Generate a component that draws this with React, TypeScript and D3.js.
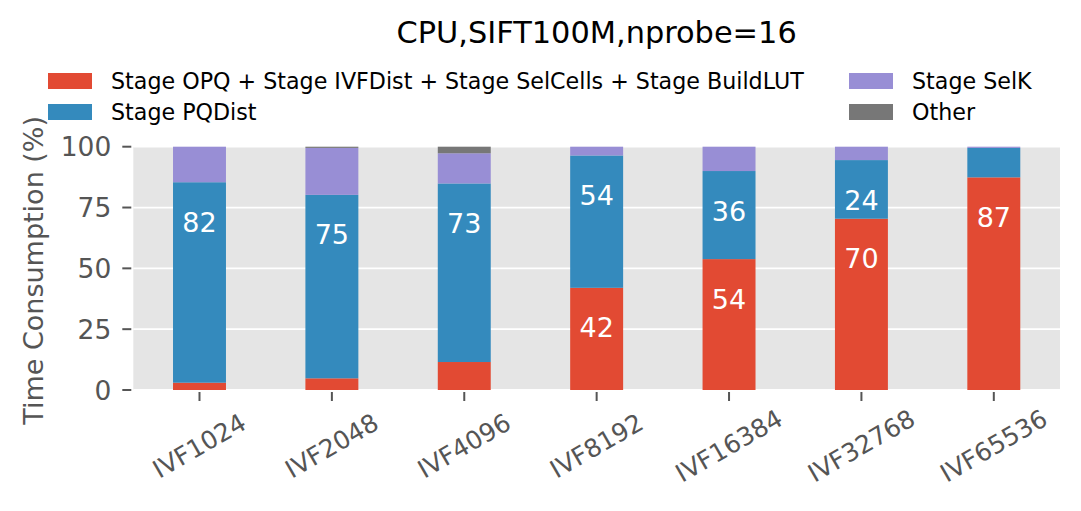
import React, { useEffect, useRef } from 'react';
import * as d3 from 'd3';

const categories = ['IVF1024', 'IVF2048', 'IVF4096', 'IVF8192', 'IVF16384', 'IVF32768', 'IVF65536'];
const seriesNames = [
  'Stage OPQ + Stage IVFDist + Stage SelCells + Stage BuildLUT',
  'Stage PQDist',
  'Stage SelK',
  'Other',
];
const stageOther4 = [3.0, 4.8, 11.5, 42.0, 53.8, 70.4, 87.4];
const stagePQDist = [82.4, 75.4, 73.4, 54.4, 36.2, 24.1, 12.1];
const stageSelK = [14.6, 19.3, 12.4, 3.6, 10.0, 5.5, 0.5];
const stageOther = [0, 0.5, 2.7, 0, 0, 0, 0];
const yTicks = [0, 25, 50, 75, 100];
const title = 'CPU,SIFT100M,nprobe=16';
const yLabel = 'Time Consumption (%)';

const colors = ['#E24A33', '#348ABD', '#988ED5', '#777777'];

const W = 1081;
const H = 511;
const M = { left: 133.3, right: 1060, top: 146.7, bottom: 390 };
const FONT = '"DejaVu Sans", sans-serif';

export default function App() {
  const ref = useRef<SVGSVGElement>(null);

  useEffect(() => {
    if (!ref.current) return;
    const svg = d3.select(ref.current);
    svg.selectAll('*').remove();

    const series = [stageOther4, stagePQDist, stageSelK, stageOther];
    const rows = categories.map((c, i) => {
      const r: Record<string, any> = { cat: c };
      series.forEach((s, k) => (r['s' + k] = s[i]));
      return r;
    });
    const keys = series.map((_, k) => 's' + k);
    const stacked = d3.stack().keys(keys)(rows as any);

    const x = d3.scaleBand<string>().domain(categories).range([M.left, M.right])
      .paddingInner(0.6).paddingOuter(0.3);
    const y = d3.scaleLinear().domain([0, 100]).range([M.bottom, M.top]);

    // background + grid
    svg.append('rect')
      .attr('x', M.left).attr('y', M.top)
      .attr('width', M.right - M.left).attr('height', M.bottom - M.top)
      .attr('fill', '#E5E5E5');
    svg.append('g').selectAll('line').data(yTicks).enter().append('line')
      .attr('x1', M.left).attr('x2', M.right)
      .attr('y1', d => y(d)).attr('y2', d => y(d))
      .attr('stroke', '#fff').attr('stroke-width', 1.8);

    // bars
    stacked.forEach((layer, k) => {
      svg.append('g').selectAll('rect').data(layer).enter().append('rect')
        .attr('x', (d: any) => x(d.data.cat)!)
        .attr('width', x.bandwidth())
        .attr('y', d => y(d[1]))
        .attr('height', d => Math.max(0, y(d[0]) - y(d[1])))
        .attr('fill', colors[k]);
    });

    // value labels for first two series
    [0, 1].forEach(k => {
      svg.append('g').selectAll('text')
        .data(stacked[k].filter((d, i) => series[k][i] > 15)).enter().append('text')
        .attr('x', (d: any) => x(d.data.cat)! + x.bandwidth() / 2)
        .attr('y', d => y(d[1]) + 40)
        .attr('text-anchor', 'middle').attr('dominant-baseline', 'central')
        .attr('fill', '#fff').attr('font-family', FONT).attr('font-size', 27)
        .text(d => Math.round(d[1] - d[0]));
    });

    // y axis ticks
    const ya = svg.append('g');
    ya.selectAll('line').data(yTicks).enter().append('line')
      .attr('x1', M.left - 11).attr('x2', M.left - 2)
      .attr('y1', d => y(d)).attr('y2', d => y(d))
      .attr('stroke', '#555').attr('stroke-width', 2);
    ya.selectAll('text').data(yTicks).enter().append('text')
      .attr('x', M.left - 22).attr('y', d => y(d))
      .attr('text-anchor', 'end').attr('dominant-baseline', 'central')
      .attr('fill', '#555').attr('font-family', FONT).attr('font-size', 26.5)
      .text(d => d);

    // x axis ticks
    const xa = svg.append('g');
    xa.selectAll('line').data(categories).enter().append('line')
      .attr('x1', d => x(d)! + x.bandwidth() / 2).attr('x2', d => x(d)! + x.bandwidth() / 2)
      .attr('y1', M.bottom + 2).attr('y2', M.bottom + 11)
      .attr('stroke', '#555').attr('stroke-width', 2);
    xa.selectAll('text').data(categories).enter().append('text')
      .attr('transform', d => `translate(${x(d)! + x.bandwidth() / 2},${M.bottom + 56}) rotate(-30)`)
      .attr('text-anchor', 'middle').attr('dominant-baseline', 'central')
      .attr('fill', '#555').attr('font-family', FONT).attr('font-size', 25)
      .text(d => d);

    // y label
    svg.append('text')
      .attr('transform', `translate(33,${(M.top + M.bottom) / 2 + 2}) rotate(-90)`)
      .attr('text-anchor', 'middle').attr('dominant-baseline', 'central')
      .attr('fill', '#555').attr('font-family', FONT).attr('font-size', 27)
      .text(yLabel);

    // title
    svg.append('text')
      .attr('x', (M.left + M.right) / 2).attr('y', 43)
      .attr('text-anchor', 'middle')
      .attr('fill', '#000').attr('font-family', FONT).attr('font-size', 30.4)
      .text(title);

    // legend (2 columns, column-major)
    const legendPos = [
      { x: 48, y: 81 },
      { x: 48, y: 112 },
      { x: 849, y: 81 },
      { x: 849, y: 112 },
    ];
    const lg = svg.append('g');
    seriesNames.forEach((name, k) => {
      const p = legendPos[k];
      lg.append('rect').attr('x', p.x).attr('y', p.y - 8)
        .attr('width', 44).attr('height', 16).attr('fill', colors[k]);
      lg.append('text').attr('x', p.x + 63).attr('y', p.y)
        .attr('dominant-baseline', 'central')
        .attr('fill', '#000').attr('font-family', FONT).attr('font-size', 22.2)
        .text(name);
    });
  }, []);

  return (
    <svg ref={ref} width={W} height={H}
      style={{ position: 'absolute', left: 0, top: 0, background: '#fff' }} />
  );
}
